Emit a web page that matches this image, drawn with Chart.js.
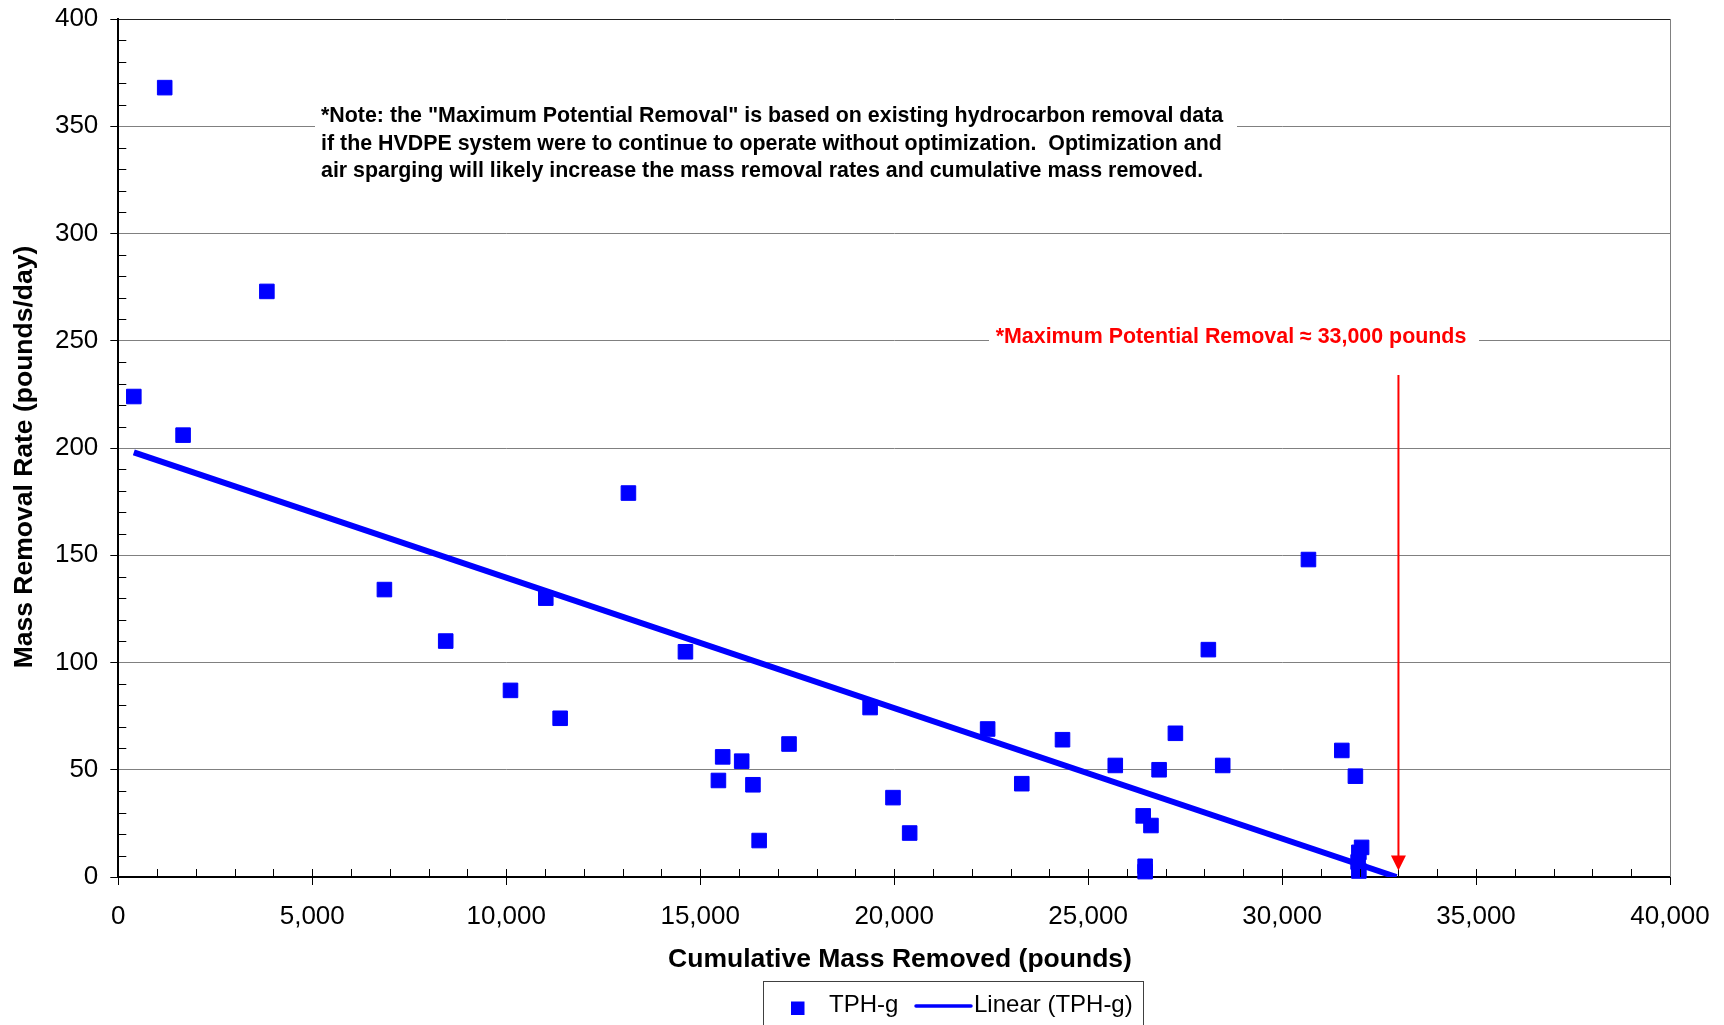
<!DOCTYPE html>
<html>
<head>
<meta charset="utf-8">
<script src="https://cdn.jsdelivr.net/npm/chart.js@4.4.1/dist/chart.umd.min.js"></script>
<style>
  html, body { margin: 0; padding: 0; background: #fff; }
  canvas { display: block; }
</style>
</head>
<body>
<canvas id="massChart" width="1724" height="1025"></canvas>
<script>
// TPH-g readings: cumulative mass removed (lb) vs removal rate (lb/day)
const cumMass = [
  400, 1196, 1670, 3830, 6860, 8440, 10110, 11020, 11390, 13150,
  14620, 15470, 15580, 16070, 16360, 16520, 17290, 19380, 19970, 20400,
  22410, 23290, 24340, 25700, 26420, 26620, 26470, 26470, 26830, 27250,
  28100, 28470, 30680, 31540, 31890, 32050, 31980, 31960, 31980
];
const removalRate = [
  224, 368, 206, 273, 134, 110, 87, 130, 74, 179,
  105, 45, 56, 54, 43, 17, 62, 79, 37, 20.5,
  69, 43.5, 64, 52, 28.5, 24, 5, 2.5, 50, 67,
  106, 52, 148, 59, 47, 13.8, 11.5, 7, 2.8
];

// linear trendline end points
const trendX = [400, 32950];
const trendY = [198, 0];

const xTickValues = [0, 5000, 10000, 15000, 20000, 25000, 30000, 35000, 40000];
const yTickValues = [0, 50, 100, 150, 200, 250, 300, 350, 400];

const noteLines = [
  '*Note: the "Maximum Potential Removal" is based on existing hydrocarbon removal data',
  'if the HVDPE system were to continue to operate without optimization.  Optimization and',
  'air sparging will likely increase the mass removal rates and cumulative mass removed.'
];
const maxLabel = '*Maximum Potential Removal \u2248 33,000 pounds';
const arrowX = 33000;
const arrowTop = 234;
const arrowTip = 3;

const FONT = '"Liberation Sans", Arial, sans-serif';
const BLUE = '#0000FF';

const decorations = {
  id: 'decorations',
  afterDraw(chart) {
    const { ctx, chartArea: a, scales: { x, y } } = chart;
    ctx.save();

    // minor ticks, inside the plot
    ctx.strokeStyle = '#000';
    ctx.lineWidth = 1;
    ctx.beginPath();
    for (let v = 10; v < 400; v += 10) {
      if (v % 50 === 0) continue;
      const py = Math.round(y.getPixelForValue(v)) + 0.5;
      ctx.moveTo(a.left, py);
      ctx.lineTo(a.left + 8, py);
    }
    for (let v = 1000; v < 40000; v += 1000) {
      const px = Math.round(x.getPixelForValue(v)) + 0.5;
      ctx.moveTo(px, a.bottom);
      ctx.lineTo(px, a.bottom - 8);
    }
    ctx.stroke();

    // right border
    ctx.strokeStyle = '#808080';
    ctx.beginPath();
    ctx.moveTo(Math.round(a.right) + 0.5, a.top);
    ctx.lineTo(Math.round(a.right) + 0.5, a.bottom);
    ctx.stroke();

    // note text box
    ctx.fillStyle = '#fff';
    ctx.fillRect(315, 96, 922, 90);
    ctx.fillStyle = '#000';
    ctx.font = 'bold 21.4px ' + FONT;
    ctx.textAlign = 'left';
    ctx.textBaseline = 'middle';
    noteLines.forEach((line, i) => ctx.fillText(line, 321, 116.5 + i * 27.5));

    // red label
    ctx.fillStyle = '#fff';
    ctx.fillRect(989, 322, 490, 28);
    ctx.fillStyle = '#FF0000';
    ctx.font = 'bold 21.4px ' + FONT;
    ctx.textAlign = 'center';
    ctx.fillText(maxLabel, 1231, 337);

    // red arrow
    const ax = x.getPixelForValue(arrowX);
    const aTop = y.getPixelForValue(arrowTop);
    const aTip = y.getPixelForValue(arrowTip);
    ctx.strokeStyle = '#FF0000';
    ctx.lineWidth = 2;
    ctx.beginPath();
    ctx.moveTo(ax, aTop);
    ctx.lineTo(ax, aTip - 14);
    ctx.stroke();
    ctx.beginPath();
    ctx.moveTo(ax - 7.5, aTip - 15);
    ctx.lineTo(ax + 7.5, aTip - 15);
    ctx.lineTo(ax, aTip);
    ctx.closePath();
    ctx.fill();

    // axis titles
    ctx.fillStyle = '#000';
    ctx.font = 'bold 26.5px ' + FONT;
    ctx.textAlign = 'center';
    ctx.fillText('Cumulative Mass Removed (pounds)', 900, 960);
    ctx.save();
    ctx.translate(25, 457);
    ctx.rotate(-Math.PI / 2);
    ctx.fillText('Mass Removal Rate (pounds/day)', 0, 0);
    ctx.restore();

    // legend
    ctx.strokeStyle = '#404040';
    ctx.lineWidth = 1;
    ctx.strokeRect(763.5, 981.5, 380, 60);
    ctx.fillStyle = BLUE;
    ctx.fillRect(791, 1001.5, 13.5, 13.5);
    ctx.strokeStyle = BLUE;
    ctx.lineWidth = 3.5;
    ctx.lineCap = 'round';
    ctx.beginPath();
    ctx.moveTo(916, 1006);
    ctx.lineTo(971, 1006);
    ctx.stroke();
    ctx.fillStyle = '#000';
    ctx.font = '24px ' + FONT;
    ctx.textAlign = 'left';
    ctx.fillText('TPH-g', 829, 1005);
    ctx.fillText('Linear (TPH-g)', 974, 1005);

    ctx.restore();
  }
};

new Chart(document.getElementById('massChart'), {
  type: 'scatter',
  data: {
    datasets: [
      {
        label: 'TPH-g',
        data: cumMass.map((v, i) => ({ x: v, y: removalRate[i] })),
        pointStyle: 'rect',
        pointRadius: 10.3,
        backgroundColor: BLUE,
        borderColor: BLUE,
        borderWidth: 1,
        clip: false
      },
      {
        label: 'Linear (TPH-g)',
        type: 'line',
        data: trendX.map((v, i) => ({ x: v, y: trendY[i] })),
        showLine: true,
        borderColor: BLUE,
        borderWidth: 6,
        pointRadius: 0,
        fill: false
      }
    ]
  },
  options: {
    responsive: false,
    animation: false,
    devicePixelRatio: 1,
    layout: { padding: { left: 0, right: 54, top: 19, bottom: 0 } },
    plugins: {
      legend: { display: false },
      tooltip: { enabled: false }
    },
    scales: {
      x: {
        type: 'linear',
        min: 0,
        max: 40000,
        afterFit: (s) => { s.height = 148; s.paddingLeft = 0; s.paddingRight = 0; },
        afterBuildTicks: (s) => { s.ticks = xTickValues.map(v => ({ value: v })); },
        grid: { drawOnChartArea: false, drawTicks: true, tickLength: 8, tickColor: '#000' },
        border: { color: '#000', width: 2 },
        ticks: {
          color: '#000',
          padding: 16,
          maxRotation: 0,
          font: { family: FONT, size: 26 },
          callback: (v) => v.toLocaleString('en-US')
        }
      },
      y: {
        type: 'linear',
        min: 0,
        max: 400,
        afterFit: (s) => { s.width = 118.3; s.paddingTop = 0; s.paddingBottom = 0; },
        afterBuildTicks: (s) => { s.ticks = yTickValues.map(v => ({ value: v })); },
        grid: {
          color: (c) => (c.tick && c.tick.value === 400 ? '#222' : '#808080'),
          lineWidth: 1,
          tickLength: 8,
          tickColor: '#000'
        },
        border: { color: '#000', width: 2 },
        ticks: {
          color: '#000',
          padding: 12,
          font: { family: FONT, size: 26 }
        }
      }
    }
  },
  plugins: [decorations]
});
</script>
</body>
</html>
